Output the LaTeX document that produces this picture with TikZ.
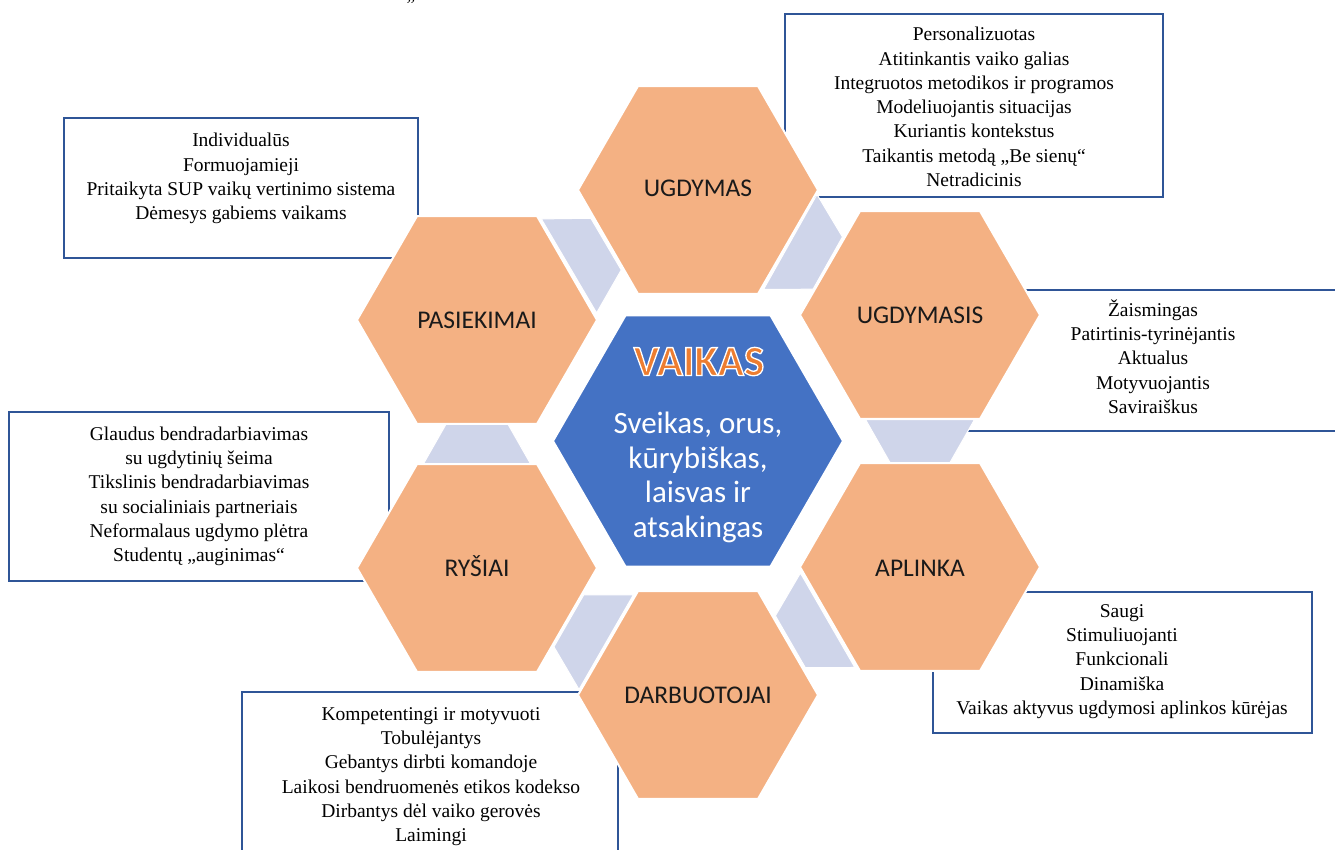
\documentclass[tikz,border=0pt]{standalone}
\usepackage{fontspec}
\setmainfont{Liberation Serif}
\newfontfamily\calibri{Carlito}
\usetikzlibrary{calc}
\definecolor{hexorange}{HTML}{F4B183}
\definecolor{hexblue}{HTML}{4472C4}
\definecolor{linkblue}{HTML}{CFD5EA}
\definecolor{boxline}{HTML}{2F5597}
\definecolor{vaikasorange}{HTML}{ED7D31}
\definecolor{labeltext}{HTML}{1A1A1A}
\tikzset{
  infobox/.style={draw=boxline, line width=2pt, inner sep=0pt, outer sep=0pt, anchor=north west},
  boxtext/.style={inner sep=0pt, anchor=north, align=center, font=\fontsize{19.5}{24.3}\selectfont, text=black},
  hexfill/.style={fill=hexorange, draw=white, line width=2pt},
  centerfill/.style={fill=hexblue, draw=white, line width=2pt},
  linkfill/.style={fill=linkblue, draw=white, line width=1pt},
  hexlabel/.style={anchor=base, inner sep=0pt, text=labeltext, font=\calibri\fontsize{25.5}{30}\selectfont}
}
\newcommand\hexagon[4]{%
  \coordinate (#1) at #2;
  \filldraw[#4] ($(#1)+(#3,0)$) -- ($(#1)+(#3/2,{#3*0.8660254})$) -- ($(#1)+(-#3/2,{#3*0.8660254})$) -- ($(#1)+(-#3,0)$) -- ($(#1)+(-#3/2,{-#3*0.8660254})$) -- ($(#1)+(#3/2,{-#3*0.8660254})$) -- cycle;}
\newcommand\linkshape[2]{%
  \path let \p1=($(#2)-(#1)$), \n1={atan2(\y1,\x1)} in \pgfextra{\xdef\lkang{\n1}};
  \begin{scope}[shift={($(#1)!0.5!(#2)$)}, rotate=\lkang]
    \filldraw[linkfill] (-21.5,-54.5) -- (-21.5,54.5) -- (21.5,30) -- (21.5,-30) -- cycle;
  \end{scope}}
\newcommand\outlinedtext[1]{\special{pdf:literal direct 2 Tr 1.3 w 1 1 1 RG}#1\special{pdf:literal direct 0 Tr}}
\begin{document}
\begin{tikzpicture}[x=1pt,y=-1pt]
\useasboundingbox (0,0) rectangle (1335,850);
% info boxes
\node[infobox, minimum width=378pt, minimum height=183pt] (b1) at (785,14) {};
\node[infobox, minimum width=354pt, minimum height=140pt] (b2) at (64,118) {};
\node[infobox, minimum width=385pt, minimum height=141pt] (b3) at (960,290) {};
\node[infobox, minimum width=380pt, minimum height=169pt] (b4) at (9,412) {};
\node[infobox, minimum width=376pt, minimum height=178pt] (b5) at (242,692) {};
\node[infobox, minimum width=379pt, minimum height=141pt] (b6) at (933,592) {};
% hexagon centres
\coordinate (ug) at (698,190);
\coordinate (ugs) at (920,315);
\coordinate (apl) at (920,567);
\coordinate (darb) at (698,695);
\coordinate (rys) at (477,568);
\coordinate (pas) at (477,320);
% connectors
\linkshape{ug}{ugs}
\linkshape{ugs}{apl}
\linkshape{apl}{darb}
\linkshape{darb}{rys}
\linkshape{rys}{pas}
\linkshape{pas}{ug}
% hexagons
\hexagon{hug}{(ug)}{120}{hexfill}
\hexagon{hugs}{(ugs)}{120}{hexfill}
\hexagon{hapl}{(apl)}{120}{hexfill}
\hexagon{hdarb}{(darb)}{120}{hexfill}
\hexagon{hrys}{(rys)}{120}{hexfill}
\hexagon{hpas}{(pas)}{120}{hexfill}
\hexagon{hvaik}{(698,441)}{145}{centerfill}
% hexagon labels
\node[hexlabel] (ugt) at (698,196.5) {UGDYMAS};
\node[hexlabel] (ugst) at (920,323.5) {UGDYMASIS};
\node[hexlabel] (aplt) at (920,576) {APLINKA};
\node[hexlabel] (darbt) at (698,703.5) {DARBUOTOJAI};
\node[hexlabel] (ryst) at (477,576.5) {RYŠIAI};
\node[hexlabel] (past) at (477,328.5) {PASIEKIMAI};
\node[anchor=base, inner sep=0pt, text=vaikasorange, font=\calibri\bfseries\fontsize{43}{48}\selectfont] (vaikas) at (699,375.5) {\outlinedtext{VAIKAS}};
\node[anchor=north, align=center, inner sep=0pt, text=white, font=\calibri\fontsize{31}{34.5}\selectfont] (sub) at (698,409.5) {\strut Sveikas, orus,\\kūrybiškas,\\laisvas ir\\atsakingas};
% box texts
\node[boxtext] (t1) at (974,23.5) {\strut Personalizuotas\\Atitinkantis vaiko galias\\Integruotos metodikos ir programos\\Modeliuojantis situacijas\\Kuriantis kontekstus\\Taikantis metodą „Be sienų“\\Netradicinis};
\node[boxtext] (t2) at (241,129.5) {\strut Individualūs\\Formuojamieji\\Pritaikyta SUP vaikų vertinimo sistema\\Dėmesys gabiems vaikams};
\node[boxtext] (t3) at (1153,299) {\strut Žaismingas\\Patirtinis-tyrinėjantis\\Aktualus\\Motyvuojantis\\Saviraiškus};
\node[boxtext] (t4) at (199,423) {\strut Glaudus bendradarbiavimas\\su ugdytinių šeima\\Tikslinis bendradarbiavimas\\su socialiniais partneriais\\Neformalaus ugdymo plėtra\\Studentų „auginimas“};
\node[boxtext] (t5) at (431,703) {\strut Kompetentingi ir motyvuoti\\Tobulėjantys\\Gebantys dirbti komandoje\\Laikosi bendruomenės etikos kodekso\\Dirbantys dėl vaiko gerovės\\Laimingi};
\node[boxtext] (t6) at (1122,600) {\strut Saugi\\Stimuliuojanti\\Funkcionali\\Dinamiška\\Vaikas aktyvus ugdymosi aplinkos kūrėjas};
% cut-off quote at the top edge
\node[anchor=base, inner sep=0pt, font=\fontsize{19.5}{24}\selectfont] (q) at (411,11.4) {”};
\end{tikzpicture}
\end{document}
